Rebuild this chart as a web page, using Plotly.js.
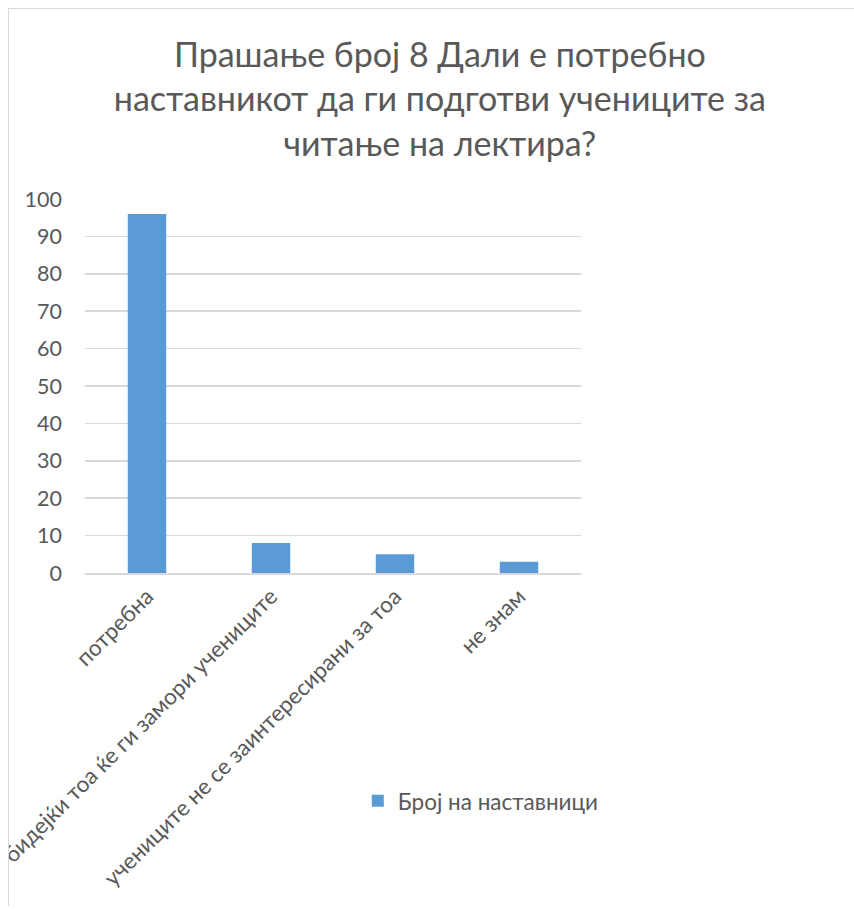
<!DOCTYPE html>
<html><head><meta charset="utf-8">
<script src="https://cdn.plot.ly/plotly-3.0.1.min.js"></script>
<style>
html,body{margin:0;padding:0;background:#fff;overflow:hidden;}
#wrap{position:absolute;left:8px;top:8px;width:860px;height:897px;border-left:1.5px solid #d9d9d9;border-top:1.5px solid #d9d9d9;overflow:hidden;}
#chart{width:860px;height:910px;}
</style></head>
<body><div id="wrap"><div id="chart"></div></div>
<script>
const categories = ["потребна", "бидејќи тоа ќе ги замори учениците", "учениците не се заинтересирани за тоа", "не знам"];
const values = [96, 8, 5, 3];
const seriesName = "Број на наставници";
const yTicks = [0, 10, 20, 30, 40, 50, 60, 70, 80, 90, 100];
const titleText = "Прашање број 8 Дали е потребно<br>наставникот да ги подготви учениците за<br>читање на лектира?";

const FONT = "Lato, 'Open Sans', sans-serif";
const GRAY = "#595959";

Plotly.newPlot("chart", [{
  type: "bar", x: categories, y: values, name: seriesName,
  marker: {color: "#5b9bd5"}, showlegend: true
}], {
  width: 860, height: 910,
  margin: {l: 76, r: 288, t: 190, b: 346, pad: 0, autoexpand: false},
  paper_bgcolor: "#fff", plot_bgcolor: "#fff",
  font: {family: FONT, color: GRAY, size: 21},
  title: {text: titleText, font: {family: FONT, size: 34, color: GRAY},
    xref: "container", x: 0.501, xanchor: "center", yref: "container", y: 0.936, yanchor: "top"},
  bargap: 0.69,
  xaxis: {type: "category", tickangle: -45, automargin: false, showline: true, linecolor: "#d9d9d9", linewidth: 1.5,
    ticks: "", tickfont: {size: 22.5, color: GRAY, family: FONT}},
  yaxis: {range: [0, 100], tickvals: yTicks, automargin: false, showgrid: true, gridcolor: "#d9d9d9", gridwidth: 1.5,
    zeroline: false, showline: false, ticks: "", ticklabelstandoff: 22, tickfont: {size: 21.5, color: GRAY, family: FONT}},
  showlegend: true,
  legend: {x: 0.55, y: -0.61, xanchor: "left", yanchor: "middle",
    font: {size: 22.5, color: GRAY, family: FONT}, itemwidth: 30, bgcolor: "rgba(0,0,0,0)"}
}, {displayModeBar: false, staticPlot: true});
</script></body></html>
